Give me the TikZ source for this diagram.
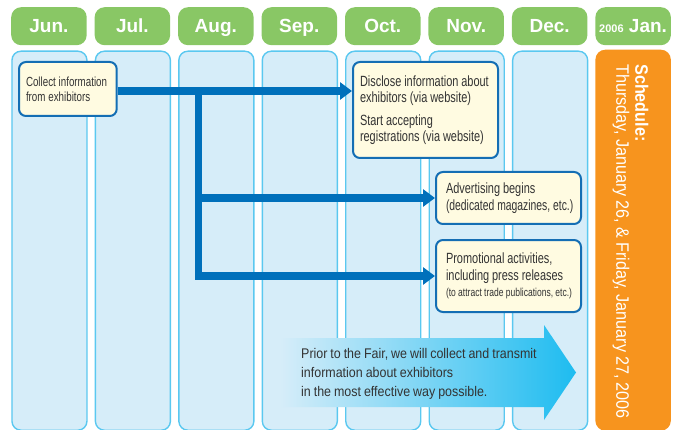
\documentclass[tikz,border=0pt]{standalone}
\usepackage{fontspec}
\setmainfont{Liberation Sans}
\newfontfamily\condA[FakeStretch=0.74]{Liberation Sans}
\newfontfamily\condD[FakeStretch=0.7]{Liberation Sans}
\newfontfamily\condB[FakeStretch=0.89,WordSpace=0.85]{Liberation Sans}
\newfontfamily\condC[FakeStretch=0.9,WordSpace=0.9]{Liberation Sans}
\newcommand\boxln[1]{\mbox{\spaceskip=2.9pt plus 1pt minus 0.5pt\relax #1}}
\newcommand\smallln[1]{\mbox{\spaceskip=2.3pt plus 1pt minus 0.5pt\relax #1}}
\usetikzlibrary{arrows.meta,calc}
\pgfdeclarelayer{bg}
\pgfdeclarelayer{flowlayer}
\pgfsetlayers{bg,flowlayer,main}
\definecolor{hdrgreen}{RGB}{137,199,101}
\definecolor{colfill}{RGB}{214,237,249}
\definecolor{colline}{RGB}{90,200,240}
\definecolor{schedorange}{RGB}{247,148,30}
\definecolor{boxfill}{RGB}{255,251,225}
\definecolor{boxline}{RGB}{20,110,180}
\definecolor{flowblue}{RGB}{0,112,187}
\definecolor{txtgray}{RGB}{51,51,51}
\definecolor{arrowmid}{RGB}{130,212,245}
\definecolor{arrowend}{RGB}{30,188,240}
\begin{document}
\begin{tikzpicture}[x=1pt,y=-1pt,
  hdr/.style={anchor=north west,fill=hdrgreen,rounded corners=10pt,minimum width=75.5pt,minimum height=38pt,inner sep=0pt,text=white,text height=13.6pt,text depth=0pt,font=\bfseries\fontsize{19}{19}\selectfont},
  colbox/.style={anchor=north west,draw=colline,fill=colfill,line width=1.4pt,rounded corners=9pt,minimum width=75pt,minimum height=379pt,inner sep=0pt},
  ybox/.style={draw=boxline,fill=boxfill,line width=2pt,rounded corners=7pt,align=left,text=txtgray,inner ysep=0pt},
  flow/.style={draw=flowblue,line width=7.5pt,line join=miter,-{Triangle[length=12pt,width=17pt]}},
]
\useasboundingbox (0,0) rectangle (679,430);
\begin{pgfonlayer}{bg}
% columns and headers
\foreach \m [count=\i from 0] in {Jun.,Jul.,Aug.,Sep.,Oct.,Nov.,Dec.} {
  \pgfmathsetmacro\xl{11+83.45*\i}
  \node[colbox] (c\i) at (\xl+0.25,50.5) {};
  \node[hdr] (h\i) at (\xl,7) {\m};
}
\node[hdr] (h7) at (595.15,7) {{\fontsize{11}{11}\selectfont 2006} Jan.};
\node[anchor=north west,fill=schedorange,rounded corners=10pt,minimum width=75.5pt,minimum height=381pt,inner sep=0pt] (jan) at (595.15,49.5) {};
\node[rotate=-90,anchor=north west,align=left,inner sep=0pt,text=white,font=\condC\fontsize{18}{19}\selectfont] (sched) at (648.5,64) {{\bfseries Schedule:}\\Thursday, January 26, \& Friday, January 27, 2006};
% big gradient arrow
\shade[left color=colfill,middle color=arrowmid,right color=arrowend]
  (280,338) -- (544,338) -- (544,325) -- (576,372.5) -- (544,420) -- (544,407) -- (280,407) -- cycle;
\node[anchor=north west,align=left,inner sep=0pt,text=txtgray,font=\condB\fontsize{14}{19}\selectfont] (note) at (301,348) {Prior to the Fair, we will collect and transmit\\information about exhibitors\\in the most effective way possible.};
\end{pgfonlayer}
% boxes
\node[ybox,minimum width=97.7pt,minimum height=54pt,inner xsep=7pt,text width=83.7pt,font=\condA\fontsize{13.2}{15}\selectfont] (b1) at (67.85,89) {\boxln{Collect information}\\\boxln{from exhibitors}};
\node[ybox,minimum width=145pt,minimum height=96pt,inner xsep=7pt,text width=131pt,font=\condA\fontsize{14.8}{16}\selectfont] (b2) at (425.5,110) {\boxln{Disclose information about}\\\boxln{exhibitors (via website)}\\[7pt]\boxln{Start accepting}\\\boxln{registrations (via website)}};
\node[ybox,minimum width=145pt,minimum height=52pt,inner xsep=10pt,text width=125pt,font=\condA\fontsize{14.8}{17}\selectfont] (b3) at (508.5,198) {\boxln{Advertising begins}\\\boxln{\condD(dedicated magazines, etc.)}};
\node[ybox,minimum width=145pt,minimum height=72pt,inner xsep=10pt,text width=125pt,font=\condA\fontsize{14.8}{16.6}\selectfont] (b4) at (508.5,276) {\boxln{Promotional activities,}\\\boxln{including press releases}\\{\fontsize{11.5}{15}\selectfont\smallln{(to attract trade publications, etc.)}}};
% flow arrows
\coordinate (s) at ($(b1.east)+(0,2)$);
\coordinate (jx) at (198.5,0);
\coordinate (j) at (jx |- s);
\begin{pgfonlayer}{flowlayer}
\draw[flow] (j) |- (b4.west);
\draw[flow] (j |- b3.west) -- (b3.west);
\draw[flow] (s) -- (s -| b2.west);
\end{pgfonlayer}
\end{tikzpicture}
\end{document}
